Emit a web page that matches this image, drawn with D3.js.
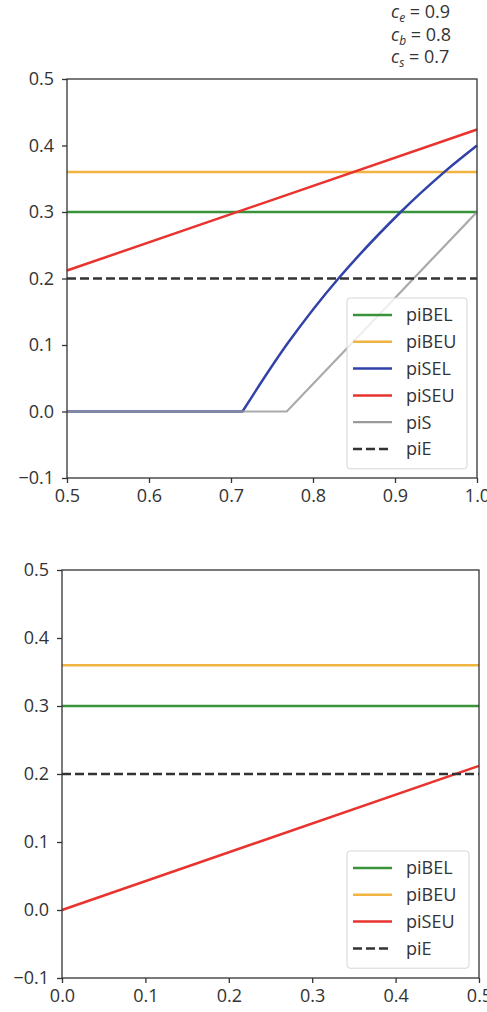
<!DOCTYPE html>
<html lang="en">
<head>
    <meta charset="UTF-8">
    <title>pi lines</title>
    <script src="https://d3js.org/d3.v7.min.js"></script>
    <style>
        body { margin: 0; background: #fff; }
        svg text { font-family: "Open Sans", "Noto Sans", sans-serif; fill: #333; }
    </style>
</head>
<body>
    <svg width="487" height="1012"></svg>

    <script>
        // Constant levels (same in both panels)
        const piBEL = 0.3, piBEU = 0.36, piE = 0.2;

        // Top panel, x from 0.5 to 1.0
        const topTicksX = [0.5, 0.6, 0.7, 0.8, 0.9, 1.0];
        const topSeuX = [0.5, 1.0];
        const topSeuY = [0.212, 0.424];
        const topSelFlatX = [0.5, 0.714];
        const topSelRiseX = [0.714, 0.770, 0.831, 0.907, 0.960, 1.0];
        const topSelRiseY = [0, 0.104, 0.2, 0.3, 0.36, 0.40];
        const topSX = [0.5, 0.768, 1.0];
        const topSY = [0, 0, 0.3];

        // Bottom panel, x from 0.0 to 0.5
        const botTicksX = [0.0, 0.1, 0.2, 0.3, 0.4, 0.5];
        const botSeuX = [0.0, 0.5];
        const botSeuY = [0.0, 0.212];

        const ticksY = [-0.1, 0.0, 0.1, 0.2, 0.3, 0.4, 0.5];

        const colors = {
            piBEL: "#3a923a", piBEU: "#f2b440", piSEL: "#3142a8",
            piSEU: "#e8332e", piS: "#9a9a9a", piE: "#333333"
        };

        const svg = d3.select("svg");
        const fmt = d => (d < 0 ? "\u2212" : "") + Math.abs(d).toFixed(1);
        const FS = 18;

        function panel(box, xDomain, xTicks) {
            const x = d3.scaleLinear().domain(xDomain).range([box.left, box.right]);
            const y = d3.scaleLinear().domain([-0.1, 0.5]).range([box.bottom, box.top]);
            const g = svg.append("g");

            g.append("g")
                .attr("transform", `translate(0,${box.bottom})`)
                .call(d3.axisBottom(x).tickValues(xTicks).tickFormat(fmt).tickSize(5).tickPadding(6))
                .call(a => a.select(".domain").remove())
                .call(a => a.selectAll("line").attr("stroke", "#333").attr("stroke-width", 1.3))
                .call(a => a.selectAll("text").attr("font-size", FS).attr("fill", "#333"));

            g.append("g")
                .attr("transform", `translate(${box.left},0)`)
                .call(d3.axisLeft(y).tickValues(ticksY).tickFormat(fmt).tickSize(5).tickPadding(8))
                .call(a => a.select(".domain").remove())
                .call(a => a.selectAll("line").attr("stroke", "#333").attr("stroke-width", 1.3))
                .call(a => a.selectAll("text").attr("font-size", FS).attr("fill", "#333"));

            return { g, x, y };
        }

        function addLine(p, xs, ys, color, opts = {}) {
            const line = d3.line().x(d => p.x(d[0])).y(d => p.y(d[1]));
            p.g.append("path")
                .datum(xs.map((v, i) => [v, ys[i]]))
                .attr("fill", "none")
                .attr("stroke", color)
                .attr("stroke-width", opts.width || 2.5)
                .attr("stroke-dasharray", opts.dash || null)
                .attr("opacity", opts.opacity || 1)
                .attr("d", line);
        }

        function frame(p, box) {
            p.g.append("rect")
                .attr("x", box.left).attr("y", box.top)
                .attr("width", box.right - box.left).attr("height", box.bottom - box.top)
                .attr("fill", "none").attr("stroke", "#333").attr("stroke-width", 1.3);
        }

        function legend(p, names, lx, ly, w) {
            const rowH = 26.8;
            const lg = p.g.append("g");
            lg.append("rect")
                .attr("x", lx).attr("y", ly)
                .attr("width", w).attr("height", names.length * rowH + 10)
                .attr("rx", 3)
                .attr("fill", "#fff").attr("fill-opacity", 0.8)
                .attr("stroke", "#d6d6d6").attr("stroke-width", 1);
            names.forEach((n, i) => {
                const cy = ly + 17 + i * rowH;
                lg.append("line")
                    .attr("x1", lx + 6).attr("x2", lx + 45)
                    .attr("y1", cy).attr("y2", cy)
                    .attr("stroke", colors[n]).attr("stroke-width", n === "piS" ? 2.2 : 2.5)
                    .attr("stroke-dasharray", n === "piE" ? "9,4" : null);
                lg.append("text")
                    .attr("x", lx + 59).attr("y", cy)
                    .attr("dy", "0.36em")
                    .attr("font-size", FS)
                    .text(n);
            });
        }

        // ---------- Top panel ----------
        const topBox = { left: 67, right: 477, top: 79, bottom: 478 };
        const pt = panel(topBox, [0.5, 1.0], topTicksX);
        const dTop = pt.x.domain();
        addLine(pt, dTop, [piBEL, piBEL], colors.piBEL);
        addLine(pt, dTop, [piBEU, piBEU], colors.piBEU);

        // piSEL: flat part then smooth rise
        const flatLine = d3.line().x(d => pt.x(d[0])).y(d => pt.y(d[1]));
        const riseLine = d3.line().x(d => pt.x(d[0])).y(d => pt.y(d[1])).curve(d3.curveCatmullRom.alpha(0.5));
        const selD = flatLine(topSelFlatX.map(v => [v, 0])) +
            riseLine(topSelRiseX.map((v, i) => [v, topSelRiseY[i]])).replace(/^M/, "L");
        pt.g.append("path")
            .attr("fill", "none").attr("stroke", colors.piSEL).attr("stroke-width", 2.5)
            .attr("d", selD);

        addLine(pt, topSeuX, topSeuY, colors.piSEU);
        addLine(pt, topSX, topSY, colors.piS, { opacity: 0.85, width: 2.2 });
        addLine(pt, dTop, [piE, piE], colors.piE, { dash: "9,4" });
        frame(pt, topBox);
        legend(pt, ["piBEL", "piBEU", "piSEL", "piSEU", "piS", "piE"], 347, 298, 120);

        // Parameter annotation
        const params = [["e", "0.9"], ["b", "0.8"], ["s", "0.7"]];
        params.forEach((p, i) => {
            const t = svg.append("text")
                .attr("x", 391).attr("y", 18 + i * 22.5)
                .attr("font-size", FS);
            t.append("tspan").attr("font-style", "italic").text("c");
            t.append("tspan").attr("font-style", "italic").attr("font-size", 12)
                .attr("dy", 4).text(p[0]);
            t.append("tspan").attr("dy", -4).text(" = " + p[1]);
        });

        // ---------- Bottom panel ----------
        const botBox = { left: 62, right: 479, top: 570, bottom: 978 };
        const pb = panel(botBox, [0.0, 0.5], botTicksX);
        const dBot = pb.x.domain();
        addLine(pb, dBot, [piBEL, piBEL], colors.piBEL);
        addLine(pb, dBot, [piBEU, piBEU], colors.piBEU);
        addLine(pb, botSeuX, botSeuY, colors.piSEU);
        addLine(pb, dBot, [piE, piE], colors.piE, { dash: "9,4" });
        frame(pb, botBox);
        legend(pb, ["piBEL", "piBEU", "piSEU", "piE"], 347, 851, 122);
    </script>
</body>
</html>
